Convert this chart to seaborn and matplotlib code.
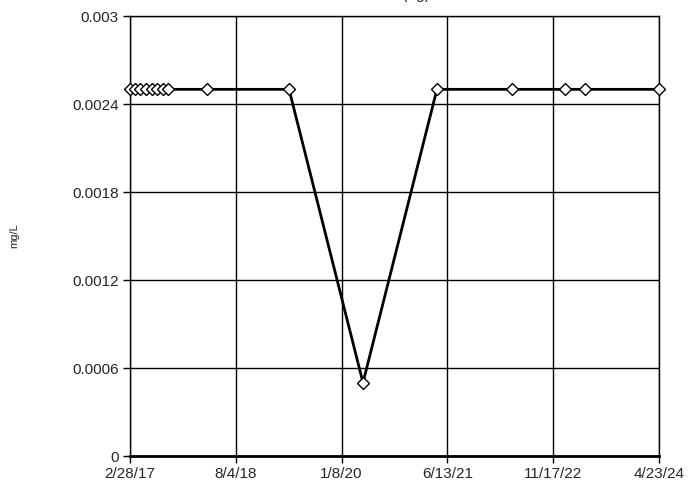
import pandas as pd
import matplotlib
matplotlib.use("Agg")
import matplotlib.pyplot as plt
import seaborn as sns

# Dados
datas = ['2017-02-28', '2017-03-25', '2017-04-18', '2017-05-18', '2017-06-17',
         '2017-07-11', '2017-08-10', '2017-09-04', '2018-03-15', '2019-04-24',
         '2020-04-23', '2021-04-23', '2022-04-28', '2023-01-14', '2023-04-23',
         '2024-04-23']
valores = [0.0025, 0.0025, 0.0025, 0.0025, 0.0025,
           0.0025, 0.0025, 0.0025, 0.0025, 0.0025,
           0.0005, 0.0025, 0.0025, 0.0025, 0.0025,
           0.0025]
ticks_x = ['2/28/17', '8/4/18', '1/8/20', '6/13/21', '11/17/22', '4/23/24']
ticks_y = [0, 0.0006, 0.0012, 0.0018, 0.0024, 0.003]

df = pd.DataFrame({'data': pd.to_datetime(datas), 'valor': valores})

sns.set_style('white')
plt.rcParams['font.family'] = ['Liberation Sans', 'DejaVu Sans']

fig = plt.figure(figsize=(6.98, 4.88), dpi=100)
ax = fig.add_axes([130 / 698, 1 - 456 / 488, 529 / 698, 440 / 488])

sns.lineplot(data=df, x='data', y='valor', ax=ax, color='black', linewidth=2,
             marker='D', markersize=6, markerfacecolor='white',
             markeredgecolor='black', markeredgewidth=1, clip_on=False, zorder=3)

pos_x = pd.to_datetime(ticks_x, format='%m/%d/%y')
ax.set_xlim(pos_x[0], pos_x[-1])
ax.set_xticks(pos_x)
ax.set_xticklabels(ticks_x)
ax.set_ylim(0, 0.003)
ax.set_yticks(ticks_y)
ax.set_yticklabels(['0', '0.0006', '0.0012', '0.0018', '0.0024', '0.003'])

ax.grid(True, color='black', linewidth=1)
for s in ax.spines.values():
    s.set_color('black')
    s.set_linewidth(1)
ax.spines['bottom'].set_linewidth(2)
ax.tick_params(axis='both', length=5, width=1, color='black', labelsize=11,
               direction='out', bottom=True, left=True, pad=3)

ax.set_xlabel('')
ax.set_ylabel('mg/L', fontsize=8)
ax.yaxis.set_label_coords(-0.21, 0.5)

fig.text(430 / 698, 1 + 1 / 488, 'Silver (ug)', ha='right', va='baseline', fontsize=11)

fig.savefig('out.png', dpi=100)
